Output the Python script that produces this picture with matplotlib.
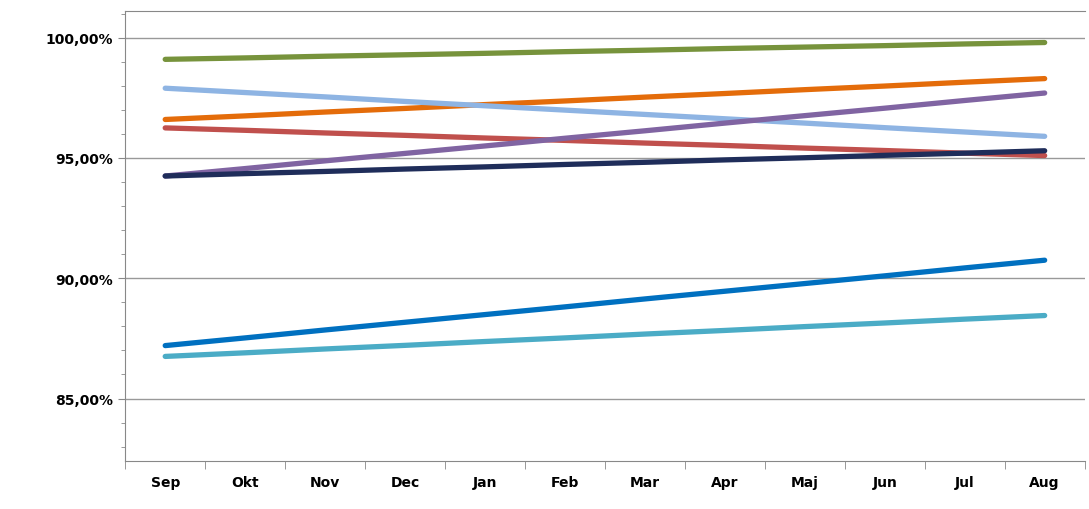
import matplotlib
matplotlib.use("Agg")
import matplotlib.pyplot as plt
from matplotlib.ticker import FuncFormatter, MultipleLocator

months = ["Sep","Okt","Nov","Dec","Jan","Feb","Mar","Apr","Maj","Jun","Jul","Aug"]
green = [99.10,99.16,99.23,99.29,99.35,99.42,99.48,99.55,99.61,99.67,99.74,99.80]
orange = [96.60,96.75,96.91,97.06,97.22,97.37,97.53,97.68,97.84,97.99,98.15,98.30]
lightblue = [97.90,97.72,97.54,97.35,97.17,96.99,96.81,96.63,96.45,96.26,96.08,95.90]
purple = [94.25,94.56,94.88,95.19,95.50,95.82,96.13,96.45,96.76,97.07,97.39,97.70]
red = [96.25,96.15,96.04,95.94,95.83,95.73,95.62,95.52,95.41,95.31,95.20,95.10]
navy = [94.25,94.35,94.44,94.54,94.63,94.73,94.82,94.92,95.01,95.11,95.20,95.30]
blue = [87.20,87.52,87.85,88.17,88.49,88.81,89.14,89.46,89.78,90.10,90.43,90.75]
teal = [86.75,86.90,87.06,87.21,87.37,87.52,87.68,87.83,87.99,88.14,88.30,88.45]

series = [(green,"#77933C"),(orange,"#E46C0A"),(lightblue,"#8EB4E3"),(red,"#C0504D"),
          (purple,"#8064A2"),(navy,"#1F2D5A"),(blue,"#0070C0"),(teal,"#4BACC6")]

fig = plt.figure(figsize=(10.89,5.10), dpi=100)
ax = fig.add_axes([0.115,0.094,0.881,0.882])
x = list(range(len(months)))
for vals,c in series:
    ax.plot(x, vals, color=c, lw=3.8, solid_capstyle="round")
ax.set_xlim(-0.5,11.5)
ax.set_ylim(82.4,101.1)
ax.set_yticks([85,90,95,100])
ax.yaxis.set_minor_locator(MultipleLocator(1))
ax.yaxis.set_major_formatter(FuncFormatter(lambda v,p: f"{v:.2f}".replace(".",",")+"%"))
ax.set_xticks(x)
ax.set_xticklabels(months, fontweight="bold", fontsize=10)
ax.set_xticks([i+0.5 for i in range(-1,12)], minor=True)
ax.tick_params(axis="x", which="major", length=0, pad=10)
ax.tick_params(axis="x", which="minor", length=6, direction="out", color="#888888")
ax.tick_params(axis="y", which="major", length=5, color="#888888", labelsize=10)
ax.tick_params(axis="y", which="minor", length=3, color="#888888")
for l in ax.get_yticklabels():
    l.set_fontweight("bold")
ax.grid(axis="y", which="major", color="#999999", lw=1)
for s in ["left","bottom","top"]:
    ax.spines[s].set_color("#888888")
ax.spines["right"].set_visible(False)
fig.savefig("out.png", dpi=100)
